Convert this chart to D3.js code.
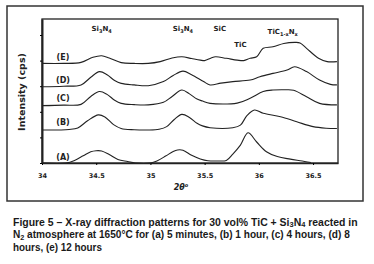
<!DOCTYPE html>
<html>
<head>
<meta charset="utf-8">
<script src="https://cdn.jsdelivr.net/npm/d3@7"></script>
<style>
  html, body { margin: 0; padding: 0; background: #fff; }
  svg { display: block; }
</style>
</head>
<body>
<div id="chart"></div>
<script>
// 2θ (deg) vs intensity (tick units), one array per reaction time
const patternA = [[34.00,0],[34.22,0],[34.30,0.1],[34.38,0.28],[34.45,0.44],[34.50,0.48],[34.55,0.47],[34.62,0.33],[34.70,0.14],[34.79,0.06],[34.86,0],[35.00,0],[35.06,0.08],[35.14,0.27],[35.21,0.45],[35.25,0.51],[35.30,0.5],[35.38,0.3],[35.46,0.16],[35.53,0.09],[35.62,0.08],[35.70,0.1],[35.76,0.35],[35.83,0.7],[35.90,1.18],[35.98,0.82],[36.07,0.44],[36.17,0.25],[36.29,0.15],[36.40,0.08],[36.48,0.02]];
const patternB = [[34.00,1.29],[34.25,1.31],[34.33,1.37],[34.42,1.65],[34.52,1.88],[34.58,1.8],[34.66,1.5],[34.73,1.35],[34.85,1.3],[34.98,1.29],[35.08,1.32],[35.15,1.42],[35.22,1.7],[35.29,1.9],[35.36,1.78],[35.43,1.55],[35.48,1.45],[35.55,1.38],[35.76,1.38],[35.83,1.48],[35.89,1.85],[35.96,2.07],[36.04,1.94],[36.20,1.81],[36.35,1.61],[36.50,1.42],[36.62,1.36],[36.72,1.35]];
const patternC = [[34.00,2.24],[34.20,2.26],[34.36,2.29],[34.45,2.6],[34.53,2.79],[34.60,2.68],[34.67,2.45],[34.73,2.33],[34.85,2.28],[34.98,2.27],[35.12,2.37],[35.20,2.6],[35.29,2.85],[35.36,2.7],[35.43,2.5],[35.48,2.42],[35.55,2.33],[35.80,2.34],[35.92,2.53],[36.04,2.79],[36.13,2.85],[36.25,2.86],[36.32,2.84],[36.44,2.59],[36.56,2.33],[36.72,2.27]];
const patternD = [[34.00,2.98],[34.20,3.0],[34.36,3.05],[34.45,3.35],[34.53,3.57],[34.60,3.45],[34.67,3.22],[34.73,3.11],[34.85,3.05],[34.98,3.02],[35.12,3.18],[35.21,3.42],[35.30,3.59],[35.38,3.45],[35.49,3.18],[35.55,3.05],[35.65,3.12],[35.76,3.18],[35.92,3.24],[36.01,3.37],[36.13,3.50],[36.26,3.63],[36.33,3.76],[36.44,3.57],[36.56,3.24],[36.66,3.07],[36.72,3.05]];
const patternE = [[34.00,3.89],[34.20,3.89],[34.36,3.93],[34.47,4.13],[34.55,4.19],[34.62,4.1],[34.73,3.92],[34.85,3.89],[34.98,3.89],[35.09,3.96],[35.20,4.1],[35.29,4.15],[35.38,4.08],[35.46,4.02],[35.50,4.0],[35.56,4.1],[35.60,4.15],[35.70,4.09],[35.80,4.02],[35.86,4.0],[35.92,4.09],[35.98,4.15],[36.04,4.48],[36.13,4.54],[36.23,4.67],[36.33,4.71],[36.38,4.69],[36.44,4.48],[36.55,4.09],[36.63,3.96],[36.72,3.96]];

const seriesNames = ["(A)", "(B)", "(C)", "(D)", "(E)"];
const seriesLabelY = [0.25, 1.62, 2.55, 3.24, 4.13];
const xTicks = [34, 34.5, 35, 35.5, 36, 36.5];
const yTicks = [0, 1, 2, 3, 4, 5];

// phase labels: [2θ, intensity, parts]  parts: [text, isSub]
const phaseLabels = [
  [34.55, 5.14, [["Si",0],["3",1],["N",0],["4",1]]],
  [35.30, 5.14, [["Si",0],["3",1],["N",0],["4",1]]],
  [35.64, 5.14, [["SiC",0]]],
  [35.83, 4.55, [["TiC",0]]],
  [36.22, 5.03, [["TiC",0],["1-x",1],["N",0],["x",1]]]
];

const captionLines = [
  [["Figure 5 \u2013 X-ray diffraction patterns for 30 vol% TiC + Si",0],["3",1],["N",0],["4",1],[" reacted in",0]],
  [["N",0],["2",1],[" atmosphere at 1650\u00b0C for (a) 5 minutes, (b) 1 hour, (c) 4 hours, (d) 8",0]],
  [["hours, (e) 12 hours",0]]
];

(function() {
  const W = 374, H = 264;
  const svg = d3.select("#chart").append("svg")
    .attr("width", W).attr("height", H);

  svg.append("rect").attr("x", 7).attr("y", 6).attr("width", 356).attr("height", 195)
    .attr("fill", "#fff").attr("stroke", "#333").attr("stroke-width", 1.5);

  const x = d3.scaleLinear().domain([34, 36.73]).range([42, 338]);
  const y = d3.scaleLinear().domain([0, 5.625]).range([163, 19]);

  const addParts = (sel, parts, subSize, shift) => {
    parts.forEach(([t, sub], i) => {
      const prevSub = i > 0 && parts[i - 1][1];
      const ts = sel.append("tspan").text(t);
      if (sub) ts.attr("dy", shift).style("font-size", subSize);
      else if (prevSub) ts.attr("dy", -shift);
    });
  };

  // plot frame
  svg.append("rect").attr("x", 42).attr("y", 19).attr("width", 296).attr("height", 144)
    .attr("fill", "none").attr("stroke", "#222").attr("stroke-width", 1.3);

  const xAxis = svg.append("g").attr("transform", "translate(0,163)")
    .call(d3.axisBottom(x).tickValues(xTicks).tickSize(2).tickSizeOuter(0).tickFormat(d3.format("")));
  xAxis.select(".domain").attr("stroke", "#222").attr("stroke-width", 1.5);
  xAxis.selectAll("text").attr("dy", "1.6em").style("font-family", "'DejaVu Sans', sans-serif")
    .style("font-size", "6.5px").style("font-weight", "bold").style("fill", "#222");

  const yAxis = svg.append("g").attr("transform", "translate(42,0)")
    .call(d3.axisLeft(y).tickValues(yTicks).tickSize(2).tickSizeOuter(0).tickFormat(""));
  yAxis.select(".domain").attr("stroke", "#222").attr("stroke-width", 2);

  const line = d3.line().x(d => x(d[0])).y(d => y(d[1])).curve(d3.curveCatmullRom.alpha(0.5));
  [patternA, patternB, patternC, patternD, patternE].forEach(p => {
    svg.append("path").datum(p).attr("d", line)
      .attr("fill", "none").attr("stroke", "#222").attr("stroke-width", 1.1);
  });

  svg.selectAll(".slabel").data(seriesNames).join("text")
    .attr("x", 63).attr("y", (d, i) => y(seriesLabelY[i]) + 3)
    .attr("text-anchor", "middle")
    .style("font-family", "'DejaVu Sans', sans-serif").style("font-size", "8px")
    .style("font-weight", "bold").style("fill", "#222")
    .text(d => d);

  phaseLabels.forEach(([px, py, parts]) => {
    const t = svg.append("text").attr("x", x(px)).attr("y", y(py))
      .attr("text-anchor", "middle")
      .style("font-family", "'DejaVu Sans', sans-serif").style("font-size", "7px")
      .style("font-weight", "bold").style("fill", "#222");
    addParts(t, parts, "5px", 2);
  });

  const xt = svg.append("text").attr("x", 181).attr("y", 190).attr("text-anchor", "middle")
    .style("font-family", "'DejaVu Sans', sans-serif").style("font-size", "8px")
    .style("font-weight", "bold").style("font-style", "italic").style("fill", "#222");
  xt.append("tspan").text("2\u03b8");
  xt.append("tspan").attr("dy", -3).style("font-size", "5px").text("o");

  svg.append("text").attr("transform", "translate(25,92) rotate(-90)")
    .attr("text-anchor", "middle")
    .style("font-family", "'DejaVu Sans', sans-serif").style("font-size", "9.5px")
    .style("font-weight", "bold").style("fill", "#222")
    .text("Intensity (cps)");

  // caption: condensed look by horizontal scaling of a normal bold face
  const captionWidths = [345, 337, 89];
  captionLines.forEach((parts, i) => {
    const g = svg.append("g");
    const t = g.append("text").attr("x", 0).attr("y", 0)
      .style("font-family", "'Liberation Sans', Arial, sans-serif")
      .style("font-size", "10.5px").style("font-weight", "bold").style("fill", "#1a1a1a");
    addParts(t, parts, "7.5px", 1.5);
    const w = t.node().getComputedTextLength();
    const sx = captionWidths[i] / w;
    g.attr("transform", `translate(13,${225.5 + i * 12.6}) scale(${sx},1)`);
  });
})();
</script>
</body>
</html>
